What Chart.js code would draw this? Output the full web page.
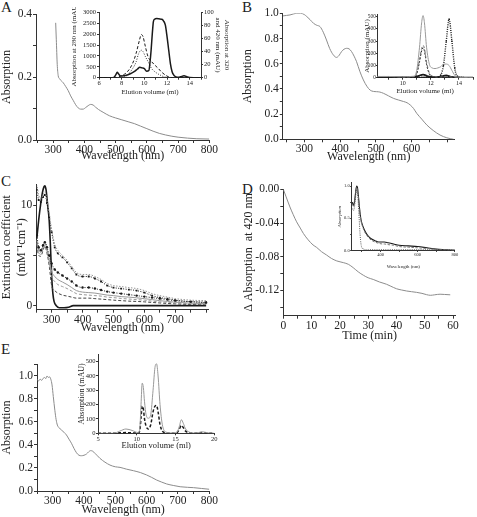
<!DOCTYPE html>
<html><head><meta charset="utf-8">
<script src="https://cdn.jsdelivr.net/npm/chart.js@4.4.0/dist/chart.umd.min.js"></script>
<style>
html,body{margin:0;padding:0;background:#fff;}
body{width:477px;height:517px;position:relative;overflow:hidden;}
canvas{position:absolute;}
.lbl{position:absolute;font:15px 'Liberation Serif',serif;color:#222;line-height:1;}
</style></head><body>
<div class="lbl" style="left:1px;top:0px">A</div>
<div class="lbl" style="left:242px;top:0px">B</div>
<div class="lbl" style="left:1px;top:174px">C</div>
<div class="lbl" style="left:242px;top:182px">D</div>
<div class="lbl" style="left:1px;top:342px">E</div>
<script>
// ---------- Panel A ----------
const wlA = [308,310,313,316,320,326,332,340,348,356,364,372,380,388,396,404,412,420,428,436,445,460,480,500,520,540,560,580,600,620,640,660,680,700,730,760,800];
const absA = [0.372,0.32,0.24,0.205,0.195,0.188,0.182,0.17,0.157,0.14,0.126,0.112,0.102,0.098,0.098,0.103,0.109,0.113,0.111,0.104,0.097,0.088,0.077,0.07,0.064,0.058,0.052,0.044,0.036,0.028,0.021,0.016,0.012,0.009,0.006,0.004,0.003];
// inset A
const elA = [6,7,7.3,7.5,7.6,7.75,7.9,8.2,8.5,8.8,9.1,9.4,9.6,9.8,10,10.2,10.4,10.5,10.6,10.7,10.8,10.9,11.1,11.3,11.55,11.7,11.85,12,12.15,12.3,12.45,12.6,12.75,13,13.2,13.5,13.8,14,15];
const a280 = [0,0,10,150,245,160,75,90,120,190,275,400,475,450,420,300,330,700,1270,2000,2570,2680,2710,2700,2680,2600,2420,1900,1270,650,275,120,50,15,40,90,30,10,0];
const el320 = [6,7.5,7.9,8.5,8.97,9.27,9.58,9.73,9.88,10.1,10.33,10.64,10.94,11.24,11.5,12,12.45,15];
const a320 = [0,0,2.5,9,22,37,58,66,63,47,32,24.5,19,14,9,2.5,0,0];
const el420 = [6,8,8.5,8.97,9.27,9.5,9.73,9.88,10.1,10.33,10.64,10.94,11.4,12,15];
const a420 = [0,0,4,14,24,37,42,40,32,24.5,14,9,4,0.5,0];

// ---------- Panel B ----------
const wlB = [240,250,260,270,279,290,300,307,316,326,335,344,353,362,371,381,390,397,404,411,418,425,432,439,446,455,465,475,484,493,502,511,521,535,549,563,577,587,596,605,614,628,642,660,679,698,717];
const absB = [0.979,0.983,0.987,0.995,1.0,1.0,0.99,0.974,0.95,0.92,0.905,0.894,0.85,0.788,0.72,0.67,0.65,0.665,0.696,0.715,0.722,0.718,0.696,0.66,0.616,0.54,0.471,0.42,0.39,0.38,0.378,0.375,0.365,0.345,0.325,0.312,0.3,0.29,0.272,0.245,0.206,0.16,0.114,0.07,0.034,0.012,0];
// inset B
const elB = [8.2,9,10,10.8,11.0,11.2,11.35,11.45,11.55,11.7,11.9,12.1,12.3,12.5,12.7,12.9,13.1,13.3,13.5,13.7,13.9,14.2,15];
const bGray = [10,10,8,12,60,250,450,510,450,250,110,80,75,80,90,110,112,100,60,20,5,2,0];
const bDash = [10,10,5,8,40,150,240,265,240,130,40,15,8,5,5,8,10,8,5,3,2,1,0];
const bDashDot = [5,5,3,5,30,130,220,245,220,110,30,10,5,3,3,5,6,5,3,2,1,0,0];
const bSquare = [3,3,3,3,3,3,3,3,3,3,3,3,3,5,20,100,300,480,300,80,10,2,0];
const bBlack = [5,5,5,5,10,18,24,25,24,15,8,5,5,5,8,15,18,12,6,3,2,1,0];

// ---------- Panel C ----------
const wlC1 = [252,258,264,270,275,278,282,287,292,296,300,304,308,315,325,340,355,370,400,500,600,700,800];
const cBlack = [6.7,8.5,10.0,11.2,11.8,11.9,11.5,10.0,8.5,6.0,3.0,1.2,0.4,0.0,-0.2,-0.2,-0.15,0.0,0.0,0.0,0.0,0.0,0.0];
const wlC = [252,258,265,272,278,285,292,300,310,320,335,350,365,380,400,420,440,460,480,500,525,550,575,600,625,650,675,700,750,800];
const cTopG = [12.1,11.0,10.6,11.0,11.3,10.5,9.2,7.6,6.1,5.5,5.0,4.5,3.9,3.3,3.1,3.1,2.9,2.6,2.2,2.0,1.9,1.8,1.7,1.5,1.2,1.0,0.85,0.7,0.55,0.5];
const cTop = [11.5,10.5,10.3,10.8,11.0,10.2,8.8,7.3,5.8,5.2,4.8,4.3,3.7,3.1,2.9,2.9,2.7,2.4,2.0,1.8,1.7,1.6,1.5,1.3,1.0,0.8,0.7,0.55,0.4,0.35];
const cMid = [7.0,5.8,5.5,6.0,6.3,5.8,5.0,4.2,3.6,3.3,3.0,2.7,2.4,2.0,1.8,1.8,1.7,1.55,1.4,1.3,1.2,1.1,1.0,0.9,0.8,0.7,0.6,0.5,0.4,0.3];
const cGray = [6.5,5.5,5.3,5.9,6.3,5.6,4.6,3.4,2.9,2.6,2.35,2.1,1.8,1.5,1.35,1.3,1.25,1.15,1.05,1.0,0.9,0.85,0.78,0.7,0.6,0.5,0.42,0.35,0.25,0.2];
const cGrayD = [6.2,5.3,5.1,5.7,6.1,5.4,4.3,2.9,2.4,2.1,1.9,1.7,1.45,1.2,1.1,1.05,1.0,0.95,0.85,0.8,0.72,0.66,0.6,0.55,0.45,0.38,0.32,0.27,0.2,0.15];
const cBlackD = [6.0,5.0,4.9,5.5,5.9,5.2,4.0,2.0,1.5,1.25,1.05,0.95,0.85,0.75,0.75,0.75,0.7,0.65,0.6,0.55,0.5,0.45,0.42,0.38,0.32,0.27,0.22,0.18,0.12,0.1];

// ---------- Panel D ----------
const tD = [0,1,2.35,3.5,4.7,6,7.1,8.8,10.5,11.8,13.5,15.3,17,18.9,21.2,23,24.7,26.5,28.3,30,31.8,34,36.5,38,40,41.8,43.6,45.3,47.1,49,50.6,52,53.5,55.4,57,59];
const dD = [0,-0.009,-0.021,-0.030,-0.0386,-0.046,-0.0524,-0.060,-0.066,-0.069,-0.074,-0.078,-0.082,-0.085,-0.087,-0.089,-0.093,-0.098,-0.102,-0.105,-0.107,-0.110,-0.1127,-0.115,-0.118,-0.1195,-0.1207,-0.1215,-0.1223,-0.1235,-0.125,-0.1258,-0.1252,-0.1245,-0.1248,-0.1252];
// inset D
const wlD = [248,255,262,268,272,276,280,285,290,295,300,310,320,335,350,370,390,410,420,440,470,500,550,600,650,700,750,800];
const dSolid = [0.75,0.7,0.8,0.95,1.0,0.98,0.88,0.72,0.58,0.48,0.42,0.34,0.28,0.22,0.18,0.15,0.13,0.13,0.13,0.12,0.1,0.08,0.07,0.06,0.04,0.02,0.01,0.0];
const dDash = [0.72,0.68,0.78,0.93,0.98,0.96,0.86,0.7,0.56,0.46,0.4,0.32,0.26,0.2,0.16,0.13,0.11,0.1,0.1,0.09,0.08,0.06,0.05,0.04,0.03,0.015,0.01,0.0];
const dDot = [0.65,0.62,0.72,0.88,0.94,0.9,0.75,0.5,0.25,0.1,0.04,0.02,0.01,0.01,0.01,0.01,0.01,0.01,0.01,0.01,0.01,0.01,0.01,0.01,0.01,0.01,0.01,0.01];

// ---------- Panel E ----------
const wlE = [250,255,260,265,270,274,278,282,286,290,294,298,302,307,311,315,320,328,336,344,352,360,368,376,384,392,400,408,415,421,428,435,443,451,467,483,500,515,535,558,580,600,616,632,648,664,685,707,730,750,775,800];
const absE = [0.969,0.955,0.97,0.96,0.978,0.985,0.975,0.998,0.985,0.99,0.97,0.92,0.82,0.70,0.62,0.572,0.55,0.529,0.51,0.486,0.45,0.414,0.37,0.332,0.31,0.306,0.31,0.321,0.34,0.35,0.345,0.327,0.305,0.283,0.25,0.225,0.21,0.205,0.19,0.176,0.16,0.139,0.118,0.095,0.077,0.061,0.048,0.037,0.032,0.029,0.022,0.015];
// inset E
const elE = [5,7,7.8,8.6,9.4,10.2,10.4,10.55,10.7,10.85,11.0,11.2,11.5,11.8,12.1,12.35,12.55,12.75,13.0,13.3,13.7,14.5,15.2,15.5,15.75,16.0,16.3,16.8,17.5,18.5,19.2,20];
const eGray = [0,0,15,30,20,5,40,200,350,320,220,130,105,130,300,460,485,400,200,60,10,2,10,50,95,70,30,8,2,10,3,0];
const eDash = [0,0,3,5,3,2,20,110,190,170,100,50,30,60,150,190,195,150,60,15,3,0,5,30,55,40,15,4,1,5,1,0];

// ---------- helpers ----------
Chart.defaults.font.family = "'Liberation Serif', 'DejaVu Serif', serif";
Chart.defaults.font.weight = 'normal';
Chart.defaults.color = '#222';
const FAM = "'Liberation Serif', serif";
const GRAY = '#8c8c8c', DARK = '#1a1a1a';
function near(v, s){ return Math.abs(v/s - Math.round(v/s)) < 1e-6; }
function pts(xs, ys){ return xs.map((x,i)=>({x:x, y:ys[i]})); }
function ds(xs, ys, o){
  return Object.assign({data: pts(xs, ys), borderColor: GRAY, borderWidth: 1, pointRadius: 0,
    cubicInterpolationMode: 'monotone', fill: false}, o||{});
}
function axis(o){
  return {
    type: 'linear', position: o.pos, min: o.min, max: o.max,
    border: {display: true, color: '#333', width: 1},
    grid: {display: true, drawOnChartArea: false, drawTicks: true, tickLength: o.tl==null?3:o.tl, color: '#333'},
    ticks: {stepSize: o.step, autoSkip: false, includeBounds: false, maxRotation: 0, minRotation: 0,
      padding: o.pad==null?1:o.pad, font: {size: o.size, family: FAM, weight: 'normal'}, color: '#222',
      callback: function(v){ return (near(v, o.every) && (!o.lim || o.lim(v))) ? o.fmt(v) : ''; }},
    title: o.title ? {display: true, text: o.title, color: '#222',
      font: {size: o.tsize, family: FAM, weight: 'normal', style: o.italic ? 'italic' : 'normal'},
      padding: {top: o.tpad||0, bottom: o.tpad||0}} : {display: false}
  };
}
function makeChart(area, m, scales, datasets){
  const yRW = m.yRW || 0;
  const left = Math.floor(area.l - m.yW);
  const top = Math.floor(area.t - m.pT);
  const right = Math.ceil(area.r + yRW + m.pR);
  const bottom = Math.ceil(area.b + m.xH);
  const yW = area.l - left, pT = area.t - top, pR = right - area.r - yRW, xH = bottom - area.b;
  const cv = document.createElement('canvas');
  cv.width = right - left; cv.height = bottom - top;
  cv.style.left = left + 'px'; cv.style.top = top + 'px';
  cv.style.width = (right-left) + 'px'; cv.style.height = (bottom-top) + 'px';
  document.body.appendChild(cv);
  scales.x.afterFit = s => { s.height = xH; s.paddingLeft = 0; s.paddingRight = 0; };
  scales.y.afterFit = s => { s.width = yW; s.paddingTop = 0; s.paddingBottom = 0; };
  if (scales.y2) scales.y2.afterFit = s => { s.width = yRW; s.paddingTop = 0; s.paddingBottom = 0; };
  return new Chart(cv, {
    type: 'line', data: {datasets: datasets},
    options: {responsive: false, animation: false, devicePixelRatio: 1,
      layout: {padding: {left: 0, top: pT, right: pR, bottom: 0}},
      plugins: {legend: {display: false}, tooltip: {enabled: false}},
      scales: scales}
  });
}
const f1 = v => v.toFixed(1);
const fi = v => String(Math.round(v));
const MS = 11.5, TS = 12;

// ---------- Panel A main ----------
makeChart({l:36, t:14, r:209.3, b:140}, {yW:36, pT:7, pR:9, xH:23}, {
  x: axis({pos:'bottom', min:245, max:800, step:50, every:100, fmt:fi, size:MS, title:'Wavelength (nm)', tsize:TS, pad:0}),
  y: axis({pos:'left', min:0, max:0.4, step:0.1, every:0.2, fmt:f1, size:MS, title:'Absorption', tsize:TS})
}, [ds(wlA, absA)]);

// ---------- Panel B main ----------
makeChart({l:282.8, t:13.3, r:454.7, b:139.3}, {yW:41, pT:7, pR:10, xH:24}, {
  x: axis({pos:'bottom', min:240, max:720, step:50, every:100, fmt:fi, lim:v=>v<=600, size:MS, title:'Wavelength (nm)', tsize:TS, pad:0}),
  y: axis({pos:'left', min:0, max:1.0, step:0.1, every:0.2, fmt:f1, size:MS, title:'Absorption', tsize:TS})
}, [ds(wlB, absB)]);

// ---------- Panel C main ----------
makeChart({l:36.2, t:184.9, r:208.6, b:309.7}, {yW:36.2, pT:7, pR:10, xH:25}, {
  x: axis({pos:'bottom', min:250, max:808, step:50, every:100, fmt:fi, lim:v=>v<=700, size:MS, title:'Wavelength (nm)', tsize:TS, pad:0}),
  y: axis({pos:'left', min:-0.4, max:12, step:5, every:10, fmt:fi, size:MS, title:['Extinction coefficient','(mM\u207B\u00B9cm\u207B\u00B9)'], tsize:TS})
}, [
  ds(wlC, cTopG, {borderColor:'#999', borderDash:[1.5,1.5]}),
  ds(wlC, cTop, {borderColor:DARK, borderDash:[1,1.5], pointRadius:1.3, pointStyle:'rect', pointBackgroundColor:DARK, pointBorderWidth:0}),
  ds(wlC, cMid, {borderColor:DARK, borderDash:[1,1.5], pointRadius:1.2, pointStyle:'circle', pointBackgroundColor:DARK, pointBorderWidth:0}),
  ds(wlC, cGray, {borderColor:'#999'}),
  ds(wlC, cGrayD, {borderColor:'#999', borderDash:[3,2]}),
  ds(wlC, cBlackD, {borderColor:'#444', borderDash:[3,2]}),
  ds(wlC1, cBlack, {borderColor:DARK, borderWidth:1.6})
]);

// ---------- Panel D main ----------
makeChart({l:283.3, t:189.3, r:455.9, b:315.7}, {yW:41.3, pT:7, pR:12, xH:27}, {
  x: axis({pos:'bottom', min:0, max:61, step:5, every:10, fmt:fi, size:MS, title:'Time (min)', tsize:TS, pad:0}),
  y: axis({pos:'left', min:-0.15, max:0, step:0.02, every:0.04, fmt:v=>Math.abs(v)<1e-9?'0.00':v.toFixed(2), size:MS, title:'\u0394 Absorption  at 420 nm', tsize:TS})
}, [ds(tD, dD)]);

// ---------- Panel E main ----------
makeChart({l:37.0, t:364.2, r:209.3, b:491}, {yW:37, pT:7, pR:9, xH:26}, {
  x: axis({pos:'bottom', min:250, max:800, step:50, every:100, fmt:fi, size:MS, title:'Wavelength (nm)', tsize:TS, pad:0}),
  y: axis({pos:'left', min:0, max:1.1, step:0.1, every:0.2, fmt:f1, size:MS, title:'Absorption', tsize:TS})
}, [ds(wlE, absE)]);

// ---------- Inset A ----------
makeChart({l:99, t:12.3, r:201, b:77.7}, {yW:28.7, pT:5, pR:0, yRW:29.7, xH:17.5}, {
  x: axis({pos:'bottom', min:6, max:15, step:1, every:2, fmt:fi, size:6.5, title:'Elution volume (ml)', tsize:7, tl:2, pad:0}),
  y: axis({pos:'left', min:0, max:3000, step:500, every:500, fmt:fi, size:6.5, title:'Absorption at 280 nm (mAU)', tsize:7, tl:2}),
  y2: axis({pos:'right', min:0, max:100, step:20, every:20, fmt:fi, size:6.5, title:['Absorption at 320','and 420 nm (mAU)'], tsize:7, tl:2})
}, [
  ds(elA, a280, {borderColor:DARK, borderWidth:1.5, yAxisID:'y'}),
  ds(el320, a320, {borderColor:DARK, borderDash:[3,2], yAxisID:'y2'}),
  ds(el420, a420, {borderColor:'#333', borderDash:[1,1.5], yAxisID:'y2'})
]);

// ---------- Inset B ----------
makeChart({l:377.3, t:14.3, r:476.8, b:77.7}, {yW:14, pT:5, pR:0, xH:16.5}, {
  x: axis({pos:'bottom', min:8.2, max:15, step:1, every:2, fmt:fi, size:6, title:'Elution volume (ml)', tsize:7, tl:2, pad:0}),
  y: axis({pos:'left', min:0, max:520, step:100, every:100, fmt:fi, size:5.3, title:'Absorption (mAU)', tsize:7, tl:1.5, pad:0})
}, [
  ds(elB, bGray, {borderColor:'#999'}),
  ds(elB, bDash, {borderColor:'#777', borderDash:[3,2]}),
  ds(elB, bDashDot, {borderColor:DARK, borderDash:[2,1.5]}),
  ds(elB, bSquare, {borderColor:DARK, borderDash:[1,1.2], borderWidth:1.4, pointRadius:1, pointStyle:'rect', pointBackgroundColor:DARK, pointBorderWidth:0}),
  ds(elB, bBlack, {borderColor:DARK, borderWidth:1.8})
]);

// ---------- Inset D ----------
makeChart({l:351.7, t:182.8, r:454.9, b:250.4}, {yW:14.4, pT:3, pR:5, xH:19}, {
  x: axis({pos:'bottom', min:245, max:800, step:100, every:200, fmt:fi, size:4.5, title:'Wavelength (nm)', tsize:4.8, tl:1.5, pad:0.5}),
  y: axis({pos:'left', min:0, max:1.05, step:0.25, every:0.5, fmt:f1, size:4.5, title:'Absorption', tsize:4.8, italic:true, tl:1.5, pad:0.5})
}, [
  ds(wlD, dDot, {borderColor:'#555', borderDash:[1,1.2]}),
  ds(wlD, dDash, {borderColor:'#777', borderDash:[2.5,1.5]}),
  ds(wlD, dSolid, {borderColor:DARK, borderWidth:1.1})
]);

// ---------- Inset E ----------
makeChart({l:98, t:354.5, r:214.3, b:433.3}, {yW:20.8, pT:5, pR:5, xH:17.5}, {
  x: axis({pos:'bottom', min:5, max:20, step:5, every:5, fmt:fi, size:6.5, title:'Elution volume (ml)', tsize:8.5, tl:2, pad:0}),
  y: axis({pos:'left', min:0, max:550, step:100, every:100, fmt:fi, size:6.5, title:'Absorption (mAU)', tsize:8, tl:2, pad:0.5})
}, [
  ds(elE, eGray, {borderColor:'#999'}),
  ds(elE, eDash, {borderColor:DARK, borderDash:[3,2], borderWidth:1.5})
]);
</script>
</body></html>
